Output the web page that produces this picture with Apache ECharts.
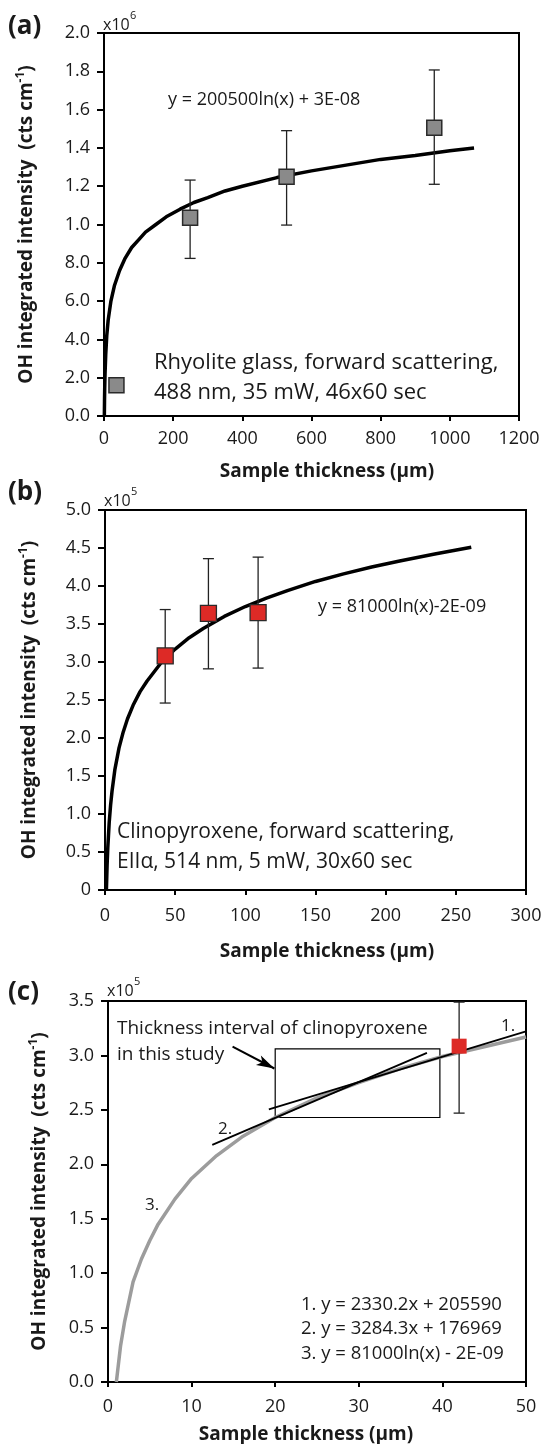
<!DOCTYPE html>
<html>
<head>
<meta charset="utf-8">
<script src="https://cdn.jsdelivr.net/npm/echarts@6/dist/echarts.min.js"></script>
<style>
html,body{margin:0;padding:0;background:#fff;}
#chart{width:545px;height:1444px;}
</style>
</head>
<body>
<div id="chart"></div>
<script>
// ---------- Panel (a): rhyolite glass (intensity in x10^6) ----------
const aThickness = [36, 249, 528, 955];
const aIntensity = [0.16, 1.035, 1.25, 1.505];
const aErrLow = [null, 0.823, 0.997, 1.21];
const aErrHigh = [null, 1.232, 1.49, 1.807];
const aCurveX = [1, 1.5, 2, 3, 5, 8, 12, 20, 30, 45, 60, 80, 100, 120, 150, 180, 220, 260, 300, 350, 400, 500, 600, 700, 800, 900, 1000, 1070];
const aCurveY = [0, 0.08, 0.14, 0.22, 0.32, 0.42, 0.50, 0.60, 0.68, 0.76, 0.82, 0.88, 0.92, 0.96, 1.00, 1.04, 1.08, 1.115, 1.14, 1.175, 1.20, 1.245, 1.28, 1.31, 1.34, 1.36, 1.385, 1.40];
const aYTickLabels = ['0.0', '2.0', '4.0', '6.0', '8.0', '1.0', '1.2', '1.4', '1.6', '1.8', '2.0'];

// ---------- Panel (b): clinopyroxene (intensity in x10^5) ----------
const bThickness = [42.9, 73.7, 109.1];
const bIntensity = [3.08, 3.64, 3.65];
const bErrLow = [2.46, 2.91, 2.92];
const bErrHigh = [3.69, 4.36, 4.38];
const bCurveX = [1, 1.5, 2, 3, 4, 5, 7, 10, 13, 16, 20, 25, 30, 40, 50, 60, 70, 85, 100, 115, 130, 150, 170, 190, 210, 235, 261];
const bCurveY = [0, 0.33, 0.56, 0.89, 1.12, 1.30, 1.58, 1.87, 2.08, 2.25, 2.43, 2.61, 2.75, 2.99, 3.17, 3.32, 3.44, 3.60, 3.73, 3.84, 3.94, 4.06, 4.16, 4.25, 4.33, 4.42, 4.51];
const bYTickLabels = ['0', '0.5', '1.0', '1.5', '2.0', '2.5', '3.0', '3.5', '4.0', '4.5', '5.0'];

// ---------- Panel (c): zoom on 0-50 um (intensity in x10^5) ----------
const cThickness = [42.0];
const cIntensity = [3.085];
const cErrLow = [2.47];
const cErrHigh = [3.49];
const cCurveX = [1, 1.5, 2, 3, 4, 5, 6, 8, 10, 13, 16, 20, 25, 30, 35, 40, 45, 50];
const cCurveY = [0, 0.33, 0.56, 0.92, 1.13, 1.30, 1.45, 1.68, 1.87, 2.08, 2.25, 2.43, 2.61, 2.75, 2.88, 2.99, 3.08, 3.17];
const line1X = [19.24, 50];
const line1Y = [2.504, 3.221];
const line2X = [12.47, 38.15];
const line2Y = [2.179, 3.023];
const rectX = [20, 39.7];
const rectY = [2.43, 3.06];
const arrowFrom = [14.9, 3.08];
const arrowTo = [19.9, 2.88];
const cYTickLabels = ['0.0', '0.5', '1.0', '1.5', '2.0', '2.5', '3.0', '3.5'];

const FONT = 'Open Sans';
const TXT = '#1a1a1a';

function pairs(xs, ys) { return xs.map((x, i) => [x, ys[i]]); }
function errData(xs, lo, hi) {
  const out = [];
  xs.forEach((x, i) => { if (lo[i] != null) out.push([x, lo[i], hi[i]]); });
  return out;
}
function errRender(params, api) {
  const x = api.value(0);
  const lo = api.coord([x, api.value(1)]);
  const hi = api.coord([x, api.value(2)]);
  const w = 5.5;
  const st = { stroke: '#222', lineWidth: 1.3 };
  return {
    type: 'group',
    children: [
      { type: 'line', shape: { x1: lo[0], y1: lo[1], x2: hi[0], y2: hi[1] }, style: st },
      { type: 'line', shape: { x1: lo[0] - w, y1: lo[1], x2: lo[0] + w, y2: lo[1] }, style: st },
      { type: 'line', shape: { x1: hi[0] - w, y1: hi[1], x2: hi[0] + w, y2: hi[1] }, style: st }
    ]
  };
}

const yName = '{t|OH integrated intensity  (cts cm}{s|-1}{t|)}';
const yNameStyle = {
  rich: {
    t: { fontFamily: FONT, fontWeight: 'bold', fontSize: 19, color: TXT, lineHeight: 24 },
    s: { fontFamily: FONT, fontWeight: 'bold', fontSize: 12, color: TXT, verticalAlign: 'top', lineHeight: 24 }
  }
};

function xAxisCfg(grid, min, max, interval, gap, margin, padLeft) {
  return {
    gridIndex: grid, type: 'value', min: min, max: max, interval: interval,
    name: 'Sample thickness (\u00b5m)', nameLocation: 'middle', nameGap: gap,
    nameTextStyle: { fontFamily: FONT, fontWeight: 'bold', fontSize: 19, color: TXT, padding: padLeft >= 0 ? [0, 0, 0, padLeft] : [0, -padLeft, 0, 0] },
    axisLine: { show: true, onZero: false, lineStyle: { color: '#000', width: 2 } },
    axisTick: { show: true, inside: false, length: 5, lineStyle: { color: '#000', width: 2 } },
    axisLabel: { fontFamily: FONT, fontSize: 18, color: TXT, margin: margin, formatter: v => String(v) },
    splitLine: { show: false }
  };
}
function yAxisCfg(grid, min, max, interval, labels, gap) {
  return {
    gridIndex: grid, type: 'value', min: min, max: max, interval: interval,
    name: yName, nameLocation: 'middle', nameGap: gap, nameRotate: 90,
    nameTextStyle: yNameStyle,
    axisLine: { show: true, onZero: false, lineStyle: { color: '#000', width: 2 } },
    axisTick: { show: true, inside: false, length: 7, lineStyle: { color: '#000', width: 2 } },
    axisLabel: {
      fontFamily: FONT, fontSize: 18, color: TXT, margin: 14,
      formatter: v => labels[Math.round((v - min) / interval)]
    },
    splitLine: { show: false }
  };
}

function gtext(text, x, y, size, opts) {
  return Object.assign({
    type: 'text', x: x, y: y,
    style: { text: text, fontFamily: FONT, fontSize: size, fill: TXT, verticalAlign: 'middle' }
  }, opts || {});
}
function bold(text, x, y, size) {
  const g = gtext(text, x, y, size);
  g.style.fontWeight = 'bold';
  return g;
}

const chart = echarts.init(document.getElementById('chart'), null, { renderer: 'canvas' });

const option = {
  animation: false,
  backgroundColor: '#fff',
  textStyle: { fontFamily: FONT },
  grid: [
    { left: 104, top: 33, width: 415, height: 383, show: true, borderColor: '#000', borderWidth: 2, backgroundColor: 'transparent', outerBoundsMode: 'none', containLabel: false },
    { left: 105, top: 510, width: 421, height: 380, show: true, borderColor: '#000', borderWidth: 2, backgroundColor: 'transparent', outerBoundsMode: 'none', containLabel: false },
    { left: 108, top: 1001, width: 418, height: 381, show: true, borderColor: '#000', borderWidth: 2, backgroundColor: 'transparent', outerBoundsMode: 'none', containLabel: false }
  ],
  xAxis: [
    xAxisCfg(0, 0, 1200, 200, 46, 14, 31),
    xAxisCfg(1, 0, 300, 50, 52, 17, 23),
    xAxisCfg(2, 0, 50, 10, 43, 16, -22)
  ],
  yAxis: [
    yAxisCfg(0, 0, 2.0, 0.2, aYTickLabels, 65),
    yAxisCfg(1, 0, 5.0, 0.5, bYTickLabels, 63),
    yAxisCfg(2, 0, 3.5, 0.5, cYTickLabels, 56)
  ],
  series: [
    // (a)
    { type: 'line', xAxisIndex: 0, yAxisIndex: 0, data: pairs(aCurveX, aCurveY), showSymbol: false, smooth: false,
      lineStyle: { color: '#000', width: 3.5 }, z: 2, silent: true },
    { type: 'custom', xAxisIndex: 0, yAxisIndex: 0, data: errData(aThickness, aErrLow, aErrHigh), renderItem: errRender,
      encode: { x: 0, y: [1, 2] }, z: 3, silent: true },
    { type: 'scatter', xAxisIndex: 0, yAxisIndex: 0, data: pairs(aThickness, aIntensity), symbol: 'rect', symbolSize: 15,
      itemStyle: { color: '#8a8a8a', borderColor: '#2a2a2a', borderWidth: 1.5, opacity: 1 }, z: 4, silent: true },
    // (b)
    { type: 'line', xAxisIndex: 1, yAxisIndex: 1, data: pairs(bCurveX, bCurveY), showSymbol: false, smooth: false,
      lineStyle: { color: '#000', width: 3.5 }, z: 2, silent: true },
    { type: 'custom', xAxisIndex: 1, yAxisIndex: 1, data: errData(bThickness, bErrLow, bErrHigh), renderItem: errRender,
      encode: { x: 0, y: [1, 2] }, z: 3, silent: true },
    { type: 'scatter', xAxisIndex: 1, yAxisIndex: 1, data: pairs(bThickness, bIntensity), symbol: 'rect', symbolSize: 16,
      itemStyle: { color: '#dd2a26', borderColor: '#2a2a2a', borderWidth: 1.3, opacity: 1 }, z: 4, silent: true },
    // (c)
    { type: 'line', xAxisIndex: 2, yAxisIndex: 2, data: pairs(cCurveX, cCurveY), showSymbol: false, smooth: false,
      lineStyle: { color: '#9c9c9c', width: 3.5 }, z: 2, silent: true },
    { type: 'line', xAxisIndex: 2, yAxisIndex: 2, data: pairs(line2X, line2Y), showSymbol: false,
      lineStyle: { color: '#000', width: 1.8 }, z: 3, silent: true },
    { type: 'line', xAxisIndex: 2, yAxisIndex: 2, data: pairs(line1X, line1Y), showSymbol: false,
      lineStyle: { color: '#000', width: 1.8 }, z: 3, silent: true,
      markArea: { silent: true, itemStyle: { color: 'rgba(0,0,0,0)', borderColor: '#000', borderWidth: 1.2 },
        data: [[{ coord: [rectX[0], rectY[0]] }, { coord: [rectX[1], rectY[1]] }]] },
      markLine: { silent: true, symbol: ['none', 'arrow'], symbolSize: [8, 18], label: { show: false },
        lineStyle: { color: '#000', width: 2, type: 'solid' }, emphasis: { disabled: true },
        data: [[{ coord: arrowFrom }, { coord: arrowTo }]] } },
    { type: 'custom', xAxisIndex: 2, yAxisIndex: 2, data: errData(cThickness, cErrLow, cErrHigh), renderItem: errRender,
      encode: { x: 0, y: [1, 2] }, z: 4, silent: true },
    { type: 'scatter', xAxisIndex: 2, yAxisIndex: 2, data: pairs(cThickness, cIntensity), symbol: 'rect', symbolSize: 15,
      itemStyle: { color: '#dd2a26', borderWidth: 0, opacity: 1 }, z: 5, silent: true }
  ],
  graphic: [
    // (a)
    bold('(a)', 8, 27, 26),
    gtext('x10', 103, 25, 16), gtext('6', 130, 16, 11),
    gtext('y = 200500ln(x) + 3E-08', 168, 100, 18),
    gtext('Rhyolite glass, forward scattering,', 154, 363, 22),
    gtext('488 nm, 35 mW, 46x60 sec', 154, 393, 22),
    // (b)
    bold('(b)', 8, 493, 26),
    gtext('x10', 104, 501, 16), gtext('5', 131, 492, 11),
    gtext('y = 81000ln(x)-2E-09', 318, 607, 18),
    gtext('Clinopyroxene, forward scattering,', 117, 832, 21),
    gtext('EII\u03b1, 514 nm, 5 mW, 30x60 sec', 117, 862, 21),
    // (c)
    bold('(c)', 8, 993, 26),
    gtext('x10', 107, 991, 16), gtext('5', 134, 982, 11),
    gtext('Thickness interval of clinopyroxene', 117, 1029, 19),
    gtext('in this study', 117, 1055, 19),
    gtext('1.', 501, 1026, 17),
    gtext('2.', 218, 1129, 17),
    gtext('3.', 145, 1205, 17),
    gtext('1. y = 2330.2x + 205590', 301, 1305, 18.5),
    gtext('2. y = 3284.3x + 176969', 301, 1329, 18.5),
    gtext('3. y = 81000ln(x) - 2E-09', 301, 1354, 18.5)
  ]
};
chart.setOption(option);
</script>
</body>
</html>
